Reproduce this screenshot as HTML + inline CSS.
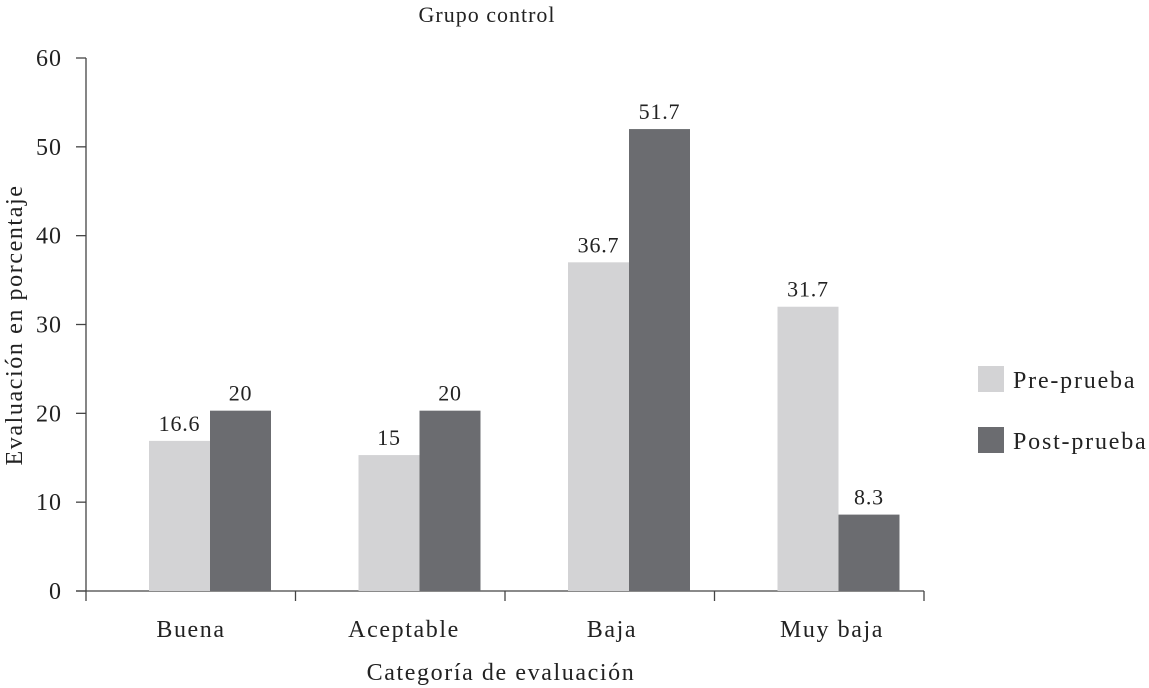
<!DOCTYPE html>
<html><head><meta charset="utf-8"><style>
body{margin:0;background:#fff;}
svg{display:block;font-family:"Liberation Serif",serif;}
</style></head><body>
<svg id="chart" width="1149" height="688">
<text x="487" y="22" font-size="22" letter-spacing="1" text-anchor="middle" fill="#222">Grupo control</text>
<text transform="translate(22,325) rotate(-90)" font-size="24" letter-spacing="1.6" text-anchor="middle" fill="#222">Evaluación en porcentaje</text>
<text x="501" y="680" font-size="24" letter-spacing="1.6" text-anchor="middle" fill="#222">Categoría de evaluación</text>
<g id="marks"></g>
<rect x="978" y="366" width="26" height="26" fill="#d3d3d5"/>
<text x="1013" y="388" font-size="24" letter-spacing="1.8" fill="#222">Pre-prueba</text>
<rect x="978" y="427" width="26" height="26" fill="#6b6c70"/>
<text x="1013" y="449" font-size="24" letter-spacing="1.8" fill="#222">Post-prueba</text>
</svg>
<script>
const categories=["Buena","Aceptable","Baja","Muy baja"];
const preValues=[16.6,15,36.7,31.7];
const postValues=[20,20,51.7,8.3];
const preLabels=["16.6","15","36.7","31.7"];
const postLabels=["20","20","51.7","8.3"];
const yTicks=[0,10,20,30,40,50,60];

const NS="http://www.w3.org/2000/svg";
const g=document.getElementById("marks");
const x0=86,catW=209.5,y0=591,yMax=60,plotH=533,barW=61;
const y=v=>y0-v/yMax*plotH;
const yb=v=>y0-(v+0.3)/yMax*plotH;
const cx=i=>x0+i*catW;
function mk(tag,attrs,text){const e=document.createElementNS(NS,tag);for(const k in attrs)e.setAttribute(k,attrs[k]);if(text!==undefined)e.textContent=text;g.appendChild(e);return e;}
let e=mk("line",{x1:x0,y1:y(60),x2:x0,y2:y0,stroke:"#444","stroke-width":1.3});


yTicks.forEach(t=>{
 let l=mk("line",{x1:x0-10,x2:x0,y1:y(t),y2:y(t),stroke:"#444","stroke-width":1.3});
 
 
 let tx=mk("text",{x:x0-24,y:y(t)+8,"font-size":24,"letter-spacing":1,"text-anchor":"end",fill:"#222"},String(t));
 
 
});
e=mk("line",{x1:x0-10,y1:y0,x2:cx(categories.length),y2:y0,stroke:"#444","stroke-width":1.3});


for(let i=0;i<=categories.length;i++){
 let l=mk("line",{x1:cx(i),x2:cx(i),y1:y0,y2:y0+10,stroke:"#444","stroke-width":1.3});
 
 
}
const labelX=[191,404,612,832];
categories.forEach((c,i)=>{
 const bx=cx(i)+63;
 let r=mk("rect",{x:bx,y:yb(preValues[i]),width:barW,height:y0-yb(preValues[i]),fill:"#d3d3d5"});
 
 
 r=mk("rect",{x:bx+barW,y:yb(postValues[i]),width:barW,height:y0-yb(postValues[i]),fill:"#6b6c70"});
 
 
 let t=mk("text",{x:bx+barW/2,y:yb(preValues[i])-10,"font-size":22,"letter-spacing":0.8,"text-anchor":"middle",fill:"#222"},preLabels[i]);
 
 
 t=mk("text",{x:bx+barW*1.5,y:yb(postValues[i])-10,"font-size":22,"letter-spacing":0.8,"text-anchor":"middle",fill:"#222"},postLabels[i]);
 
 
 t=mk("text",{x:labelX[i],y:637,"font-size":24,"letter-spacing":1.6,"text-anchor":"middle",fill:"#222"},c);
 
 
});
</script>
</body></html>
